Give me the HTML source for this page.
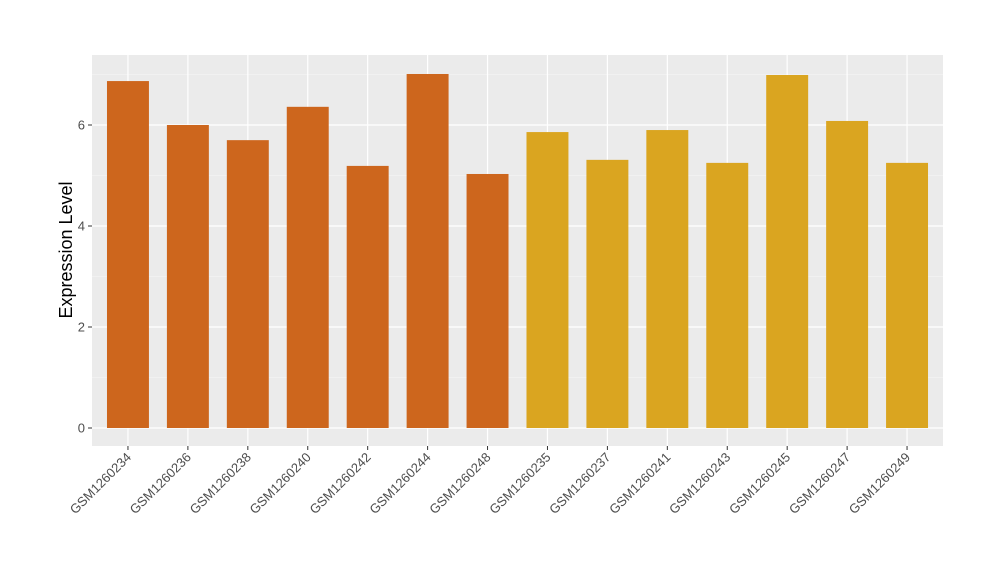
<!DOCTYPE html>
<html><head><meta charset="utf-8"><style>
body{margin:0;background:#fff;}
svg{display:block;font-family:"Liberation Sans",Arial,sans-serif;}
</style></head><body>
<svg id="chart" width="1000" height="580">
<rect x="92" y="55" width="851" height="391" fill="#ebebeb"/>
<g id="grid"></g><g id="bars"></g><g id="axes"></g>
<text transform="translate(72,250) rotate(-90)" text-anchor="middle" font-size="18" fill="#000">Expression Level</text>
</svg>
<script>
const categories=["GSM1260234","GSM1260236","GSM1260238","GSM1260240","GSM1260242","GSM1260244","GSM1260248","GSM1260235","GSM1260237","GSM1260241","GSM1260243","GSM1260245","GSM1260247","GSM1260249"];
const values=[6.87,6.0,5.70,6.36,5.19,7.01,5.03,5.86,5.31,5.90,5.25,6.99,6.08,5.25];
const groups=["a","a","a","a","a","a","a","b","b","b","b","b","b","b"];
const yTicks=[0,2,4,6];
const yMinor=[1,3,5,7];
const colors={a:"#cd661d",b:"#daa520"};
const NS="http://www.w3.org/2000/svg";
const px0=92,pw=851,py0=55,ph=391;
const step=pw/(categories.length-1+1.2);
function xs(i){return px0+step*(0.6+i);}
function ys(v){return 428-v*50.5;}
function mk(tag,attrs,parent){const e=document.createElementNS(NS,tag);for(const k in attrs)e.setAttribute(k,attrs[k]);parent.appendChild(e);return e;}
const grid=document.getElementById('grid'),bars=document.getElementById('bars'),axes=document.getElementById('axes');
yMinor.forEach(v=>{const y=ys(v);if(y<py0)return;const l=mk('line',{x1:px0,x2:px0+pw,y1:y,y2:y,stroke:'#f7f7f7','stroke-width':0.6},grid);

});
yTicks.forEach(v=>{const y=ys(v);const l=mk('line',{x1:px0,x2:px0+pw,y1:y,y2:y,stroke:'#fff','stroke-width':1.2},grid);


mk('line',{x1:px0-4,x2:px0,y1:y,y2:y,stroke:'#333','stroke-width':1},axes);
const t=mk('text',{x:px0-7,y:y+4.5,'text-anchor':'end','font-size':13,fill:'#4d4d4d'},axes);t.textContent=v;

});
categories.forEach((c,i)=>{const x=xs(i);
const g=mk('line',{x1:x,x2:x,y1:py0,y2:py0+ph,stroke:'#fff','stroke-width':1.2},grid);


const bw=step*0.7;
const r=mk('rect',{x:x-bw/2,y:ys(values[i]),width:bw,height:ys(0)-ys(values[i]),fill:colors[groups[i]]},bars);


mk('line',{x1:x,x2:x,y1:py0+ph,y2:py0+ph+4,stroke:'#333','stroke-width':1},axes);
const t=mk('text',{transform:`translate(${x+4},${py0+ph+12}) rotate(-45)`,'text-anchor':'end','font-size':13,fill:'#4d4d4d'},axes);t.textContent=c;

});
</script>
</body></html>
